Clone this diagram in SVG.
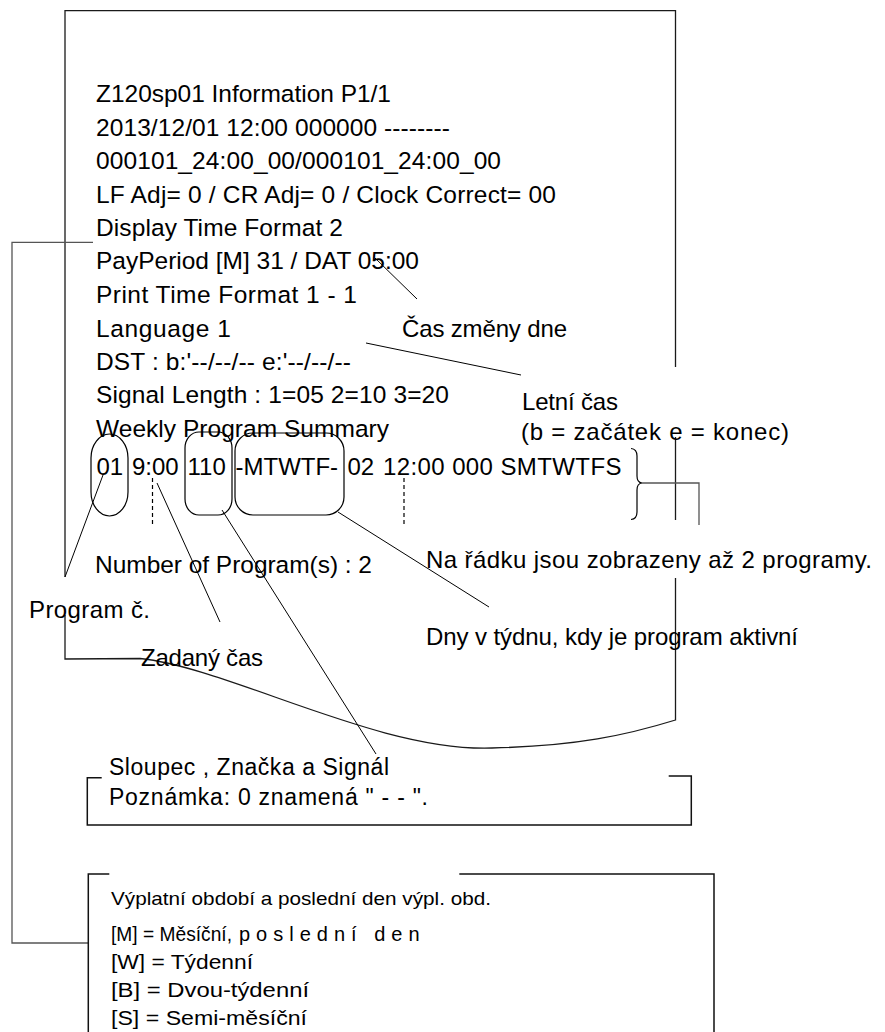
<svg xmlns="http://www.w3.org/2000/svg" width="885" height="1032" viewBox="0 0 885 1032">
<style>
text{font-family:"Liberation Sans",Arial,sans-serif;fill:#000}
.m{font-size:24.5px}
.c{font-size:24px}
.s{font-size:23px}
.b{font-size:20px}
.edge{fill:none;stroke:#1a1a1a;stroke-width:1.3}
.thin{fill:none;stroke:#000;stroke-width:1}
.gray{fill:none;stroke:#555;stroke-width:1.3}
.box{fill:none;stroke:#111;stroke-width:1.5}
.mark{fill:none;stroke:#000;stroke-width:1.2}
.dash{fill:none;stroke:#000;stroke-width:1.2;stroke-dasharray:4 3}
</style>
<rect x="0" y="0" width="885" height="1032" fill="#fff"/>

<g id="printout">
<path class="edge" d="M65,577 L65,10.7 L675.5,10.7 L675.5,367"/>
<path class="edge" d="M675.5,437 L675.5,520"/>
<path class="edge" d="M675.5,578 L675.5,720 C627,735 577,746 492,748 C378,752 230,668 140,658.5 L65,659 L65,615"/>
<g id="printout-text" class="m">
<text x="96" y="102" textLength="295">Z120sp01 Information P1/1</text>
<text x="96" y="136" textLength="354">2013/12/01 12:00 000000 --------</text>
<text x="96" y="169" textLength="405">000101_24:00_00/000101_24:00_00</text>
<text x="96" y="202.5" textLength="460">LF Adj= 0 / CR Adj= 0 / Clock Correct= 00</text>
<text x="96" y="236" textLength="247">Display Time Format 2</text>
<text x="96" y="269" textLength="323">PayPeriod [M] 31 / DAT 05:00</text>
<text x="96" y="303" textLength="261">Print Time Format 1 - 1</text>
<text x="96" y="336.5" textLength="135">Language 1</text>
<text x="96" y="370" textLength="255">DST : b:'--/--/-- e:'--/--/--</text>
<text x="96" y="403" textLength="353">Signal Length : 1=05 2=10 3=20</text>
<text x="96" y="436.5" textLength="293">Weekly Program Summary</text>
<text y="475" font-size="24"><tspan x="96.5">01</tspan> <tspan x="132">9:00</tspan> <tspan x="187.5">110</tspan> <tspan x="235.5">-MTWTF-</tspan> <tspan x="347.5">02</tspan> <tspan x="383" letter-spacing="0.4">12:00 000 SMTWTFS</tspan></text>
<text x="95" y="573" textLength="277">Number of Program(s) : 2</text>
</g>
</g>

<g id="marks">
<rect class="mark" x="91" y="434" width="37" height="82" rx="18.5" ry="24"/>
<rect class="mark" x="185" y="432" width="47" height="83" rx="14" ry="16"/>
<rect class="mark" x="235" y="433" width="109" height="82" rx="18" ry="18"/>
<path class="dash" d="M152.5,478 L152.5,527"/>
<path class="dash" d="M404,478 L404,527"/>
<path class="mark" d="M631,448.5 Q637,449 637,456 L637,476 Q637,482.5 642,483 Q637,483.5 637,490 L637,512 Q637,519 631,519.5"/>
</g>

<g id="connectors">
<path class="thin" d="M375,258 L417,299"/>
<path class="thin" d="M366,343 L521,375"/>
<path class="thin" d="M103,475 L65,577"/>
<path class="thin" d="M157,483 L220,622"/>
<path class="thin" d="M222,510 L376,754"/>
<path class="thin" d="M338,512 L489,607"/>
<path class="gray" d="M642,483 L699,483 L699,525"/>
<path class="gray" d="M93,242.3 L12,242.3 L12,943 L88.3,943"/>
</g>

<g id="label-day-change"><text class="c" x="402" y="337" textLength="165">Čas změny dne</text></g>
<g id="label-dst">
<text class="c" x="522" y="410" textLength="96">Letní čas</text>
<text class="c" x="521" y="440" textLength="268">(b = začátek e = konec)</text>
</g>
<g id="label-two-programs"><text class="c" x="426" y="568" textLength="446">Na řádku jsou zobrazeny až 2 programy.</text></g>
<g id="label-program-no"><text class="c" x="29" y="618" textLength="121">Program č.</text></g>
<g id="label-days"><text class="c" x="426" y="645" textLength="372">Dny v týdnu, kdy je program aktivní</text></g>
<g id="label-time"><text class="c" x="141" y="666" textLength="122">Zadaný čas</text></g>

<g id="box-column">
<path class="box" d="M101.7,777.7 L87.3,777.7 L87.3,825 L691.3,825 L691.3,776 L668.7,776"/>
<text class="s" x="109" y="775" textLength="280">Sloupec , Značka a Signál</text>
<text class="s" x="109" y="805" textLength="319">Poznámka: 0 znamená " - - ".</text>
</g>

<g id="box-payperiod">
<path class="box" d="M109.3,874 L88.3,874 L88.3,1032"/>
<path class="box" d="M459.3,874 L714,874 L714,1032"/>
<text x="111" y="905" font-size="19" textLength="380" lengthAdjust="spacingAndGlyphs">Výplatní období a poslední den výpl. obd.</text>
<text x="111" y="941" font-size="20"><tspan textLength="121" lengthAdjust="spacingAndGlyphs">[M] = Měsíční,</tspan> <tspan x="239" letter-spacing="6">poslední den</tspan></text>
<text class="b" x="111" y="968.5" textLength="142" lengthAdjust="spacingAndGlyphs">[W] = Týdenní</text>
<text class="b" x="111" y="996.5" textLength="198" lengthAdjust="spacingAndGlyphs">[B] = Dvou-týdenní</text>
<text class="b" x="111" y="1025" textLength="196" lengthAdjust="spacingAndGlyphs">[S] = Semi-měsíční</text>
</g>
</svg>
